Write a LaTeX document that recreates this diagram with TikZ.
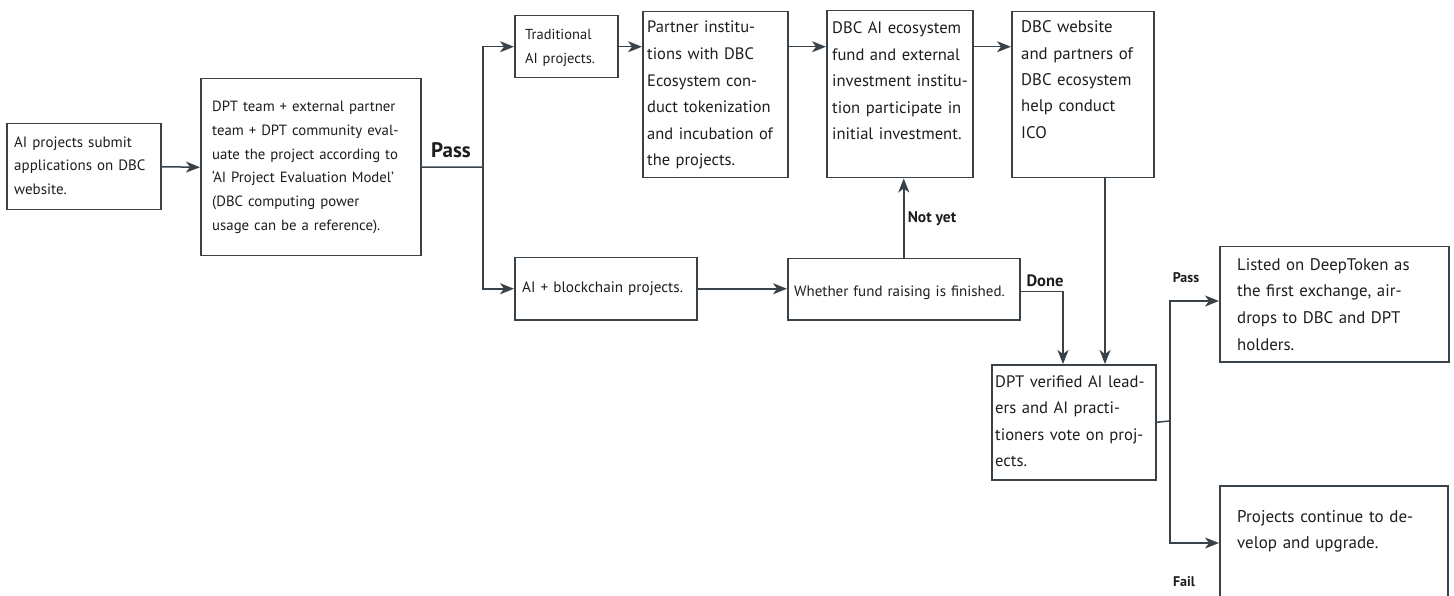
\documentclass[tikz,border=0pt]{standalone}
\usepackage{fontspec}
\setmainfont{PT Sans}
\usetikzlibrary{arrows.meta,calc}
\definecolor{ln}{HTML}{3A4249}
\definecolor{tx}{HTML}{1F1C1D}
\tikzset{
  box/.style={draw=ln, line width=1.5pt, inner sep=0pt, anchor=north west},
  txt/.style={text=tx, inner sep=0pt, anchor=base west, text width=240pt, align=left},
  lbl/.style={text=tx, inner sep=0pt, font=\bfseries},
  conn/.style={draw=ln, line width=1.5pt},
  arr/.style={conn, -{Stealth[length=14pt,width=11pt,inset=4pt]}}
}
\newcommand{\fs}[2]{\fontsize{#1}{#2}\selectfont}
\begin{document}
\begin{tikzpicture}[x=1pt,y=-1pt]
\path[use as bounding box] (0,0) rectangle (1454,596);
\clip (0,0) rectangle (1454,596);
% boxes
\node[box, minimum width=154pt, minimum height=86pt] (A) at (6,123) {};
\node[txt, font=\fs{15}{23.5}] (At) at (14,147.5) {AI projects submit\\applications on DBC\\website.};
\node[box, minimum width=220pt, minimum height=177pt] (B) at (200,78) {};
\node[txt, font=\fs{14.8}{23.8}] (Bt) at (212,111.5) {DPT team + external partner\\team + DPT community eval-\\uate the project according to\\‘AI Project Evaluation Model’\\(DBC computing power\\usage can be a reference).};
\node[box, minimum width=103pt, minimum height=62pt] (trad) at (514,15) {};
\node[txt, font=\fs{14.5}{24}] (tradt) at (525,39.5) {Traditional\\AI projects.};
\node[box, minimum width=145pt, minimum height=166pt] (partner) at (642,11) {};
\node[txt, font=\fs{16.5}{26.6}] (partnert) at (647,33) {Partner institu-\\tions with DBC\\Ecosystem con-\\duct tokenization\\and incubation of\\the projects.};
\node[box, minimum width=146pt, minimum height=167pt] (fund) at (826,10) {};
\node[txt, font=\fs{16.6}{26.5}] (fundt) at (832,34) {DBC AI ecosystem\\fund and external\\investment institu-\\tion participate in\\initial investment.};
\node[box, minimum width=142pt, minimum height=166pt] (web) at (1011,11) {};
\node[txt, font=\fs{16.8}{26.3}] (webt) at (1021,33) {DBC website\\and partners of\\DBC ecosystem\\help conduct\\ICO};
\node[box, minimum width=182pt, minimum height=62pt] (aibc) at (514,257) {};
\node[txt, font=\fs{15.2}{20}] (aibct) at (522,292.5) {AI + blockchain projects.};
\node[box, minimum width=232pt, minimum height=61pt] (whether) at (787,258) {};
\node[txt, font=\fs{15}{20}] (whethert) at (794,296.5) {Whether fund raising is finished.};
\node[box, minimum width=164pt, minimum height=115pt] (dpt) at (991,364) {};
\node[txt, font=\fs{16.6}{26.5}] (dptt) at (995,387) {DPT verified AI lead-\\ers and AI practi-\\tioners vote on proj-\\ects.};
\node[box, minimum width=229pt, minimum height=115pt] (listed) at (1219,246) {};
\node[txt, font=\fs{16.8}{26.7}] (listedt) at (1237,270) {Listed on DeepToken as\\the first exchange, air-\\drops to DBC and DPT\\holders.};
\node[box, minimum width=228pt, minimum height=130pt] (proj) at (1219,485) {};
\node[txt, font=\fs{17}{26}] (projt) at (1237,522) {Projects continue to de-\\velop and upgrade.};
% labels
\node[lbl, font=\fs{21}{24}\bfseries] (pass1) at (451,150) {Pass};
\node[lbl, font=\fs{15.5}{18}\bfseries] (notyet) at (932,219) {Not yet};
\node[lbl, font=\fs{16.5}{18}\bfseries] (done) at (1045,281) {Done};
\node[lbl, font=\fs{14}{16}\bfseries] (pass2) at (1186,278) {Pass};
\node[lbl, font=\fs{14}{16}\bfseries] (fail) at (1184,582) {Fail};
% connectors
\coordinate (j1) at (483,167);
\coordinate (j2) at (1170,421);
\draw[arr] (A.east) -- (B.west);
\draw[conn] (B.east) -- (j1);
\draw[arr] (j1) |- (trad.west);
\draw[arr] (j1) |- (aibc.west);
\draw[arr] (trad.east) -- (trad.east -| partner.west);
\draw[arr] (trad.east -| partner.east) -- (trad.east -| fund.west);
\draw[arr] (trad.east -| fund.east) -- (trad.east -| web.west);
\draw[arr] (aibc.east) -- (aibc.east -| whether.west);
\draw[arr] (whether.north) -- (whether.north |- fund.south);
\coordinate (dn) at ($(dpt.north west)+(72,0)$);
\draw[arr] ($(whether.east)+(0,2)$) -| (dn);
\coordinate (ws) at ($(web.south west)+(94,0)$);
\draw[arr] (ws) -- (ws |- dpt.north);
\draw[conn] (dpt.east) -- (j2);
\draw[arr] (j2) |- ($(listed.north west)+(0,55)$);
\draw[arr] (j2) |- ($(proj.north west)+(0,58)$);
\end{tikzpicture}
\end{document}
